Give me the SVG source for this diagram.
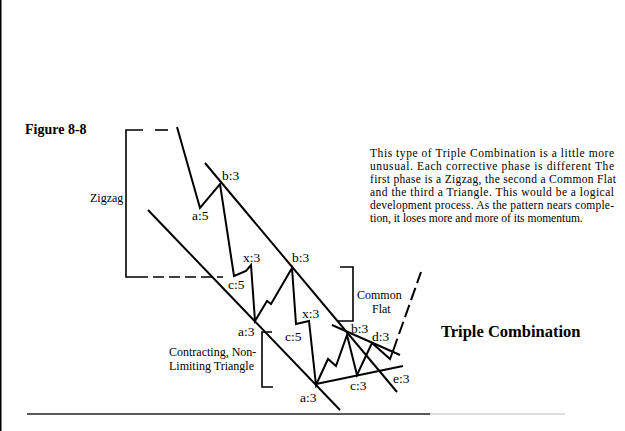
<svg xmlns="http://www.w3.org/2000/svg" width="625" height="431" viewBox="0 0 625 431">
<style>
.ln{fill:none;stroke:#000;stroke-width:2;stroke-linejoin:miter;stroke-linecap:butt}
.br{fill:none;stroke:#000;stroke-width:1.6}
.lb{font-family:"Liberation Serif","Times New Roman",serif;font-size:13.5px;fill:#000}
.sm{font-family:"Liberation Serif","Times New Roman",serif;font-size:12px;fill:#000}
.tx{font-family:"Liberation Serif","Times New Roman",serif;font-size:11.5px;fill:#000}
.bd{font-family:"Liberation Serif","Times New Roman",serif;font-weight:bold;fill:#000}
</style>
<rect x="0" y="0" width="625" height="431" fill="#fff"/>
<rect x="0" y="0" width="1.5" height="431" fill="#000"/>
<line x1="27" y1="414" x2="430" y2="414" stroke="#222" stroke-width="1.6"/>
<line x1="430" y1="414" x2="565" y2="414" stroke="#bbb" stroke-width="1.2"/>

<text class="bd" x="25" y="134" font-size="14">Figure 8-8</text>

<g id="connectors">
  <polyline id="upper-channel" class="ln" points="205,163 397,392"/>
  <polyline id="lower-channel" class="ln" points="148,210 340,410"/>
  <polyline id="triangle-upper" class="ln" points="332,325 400,355"/>
  <polyline id="triangle-lower" class="ln" points="316,384 403,366"/>
  <polyline id="wave" class="ln" points="177,127 200,208 220,184 234,276 246,271 251,265 255,321 267,301 271,304 292,268 296,324 309,321 316,385 328,359 336,366 347,335 357,375 372,343 390,359 393,351"/>
  <line id="thrust" class="ln" x1="393" y1="351" x2="421" y2="272" stroke-dasharray="13 5"/>
</g>

<g id="zigzag-bracket">
  <polyline class="br" points="143,130 126,130 126,277 148,277"/>
  <line class="br" x1="155" y1="130" x2="168" y2="130"/>
  <line class="br" x1="153" y1="277" x2="223" y2="277" stroke-dasharray="11 5"/>
  <text class="sm" x="90" y="202">Zigzag</text>
</g>

<g id="common-flat-bracket">
  <polyline class="br" points="340,267 353,267 353,321 337,321"/>
  <text class="sm" x="357" y="299">Common</text>
  <text class="sm" x="372" y="313">Flat</text>
</g>

<g id="triangle-bracket">
  <polyline class="br" points="272,332 262,332 262,387 273,387"/>
  <text class="sm" x="169" y="356">Contracting, Non-</text>
  <text class="sm" x="169" y="370">Limiting Triangle</text>
</g>

<g id="labels">
  <text class="lb" x="222" y="180">b:3</text>
  <text class="lb" x="192" y="220">a:5</text>
  <text class="lb" x="243" y="262">x:3</text>
  <text class="lb" x="228" y="289">c:5</text>
  <text class="lb" x="292" y="262">b:3</text>
  <text class="lb" x="238" y="336">a:3</text>
  <text class="lb" x="285" y="341">c:5</text>
  <text class="lb" x="302" y="318">x:3</text>
  <text class="lb" x="351" y="333">b:3</text>
  <text class="lb" x="372" y="341">d:3</text>
  <text class="lb" x="350" y="390">c:3</text>
  <text class="lb" x="393" y="383">e:3</text>
  <text class="lb" x="300" y="402">a:3</text>
</g>

<g id="description">
  <text class="tx" x="370" y="157" textLength="244" lengthAdjust="spacing">This type of Triple Combination is a little more</text>
  <text class="tx" x="370" y="170" textLength="244" lengthAdjust="spacing">unusual.  Each corrective phase is different  The</text>
  <text class="tx" x="370" y="183" textLength="246" lengthAdjust="spacing">first phase is a Zigzag, the second a Common Flat</text>
  <text class="tx" x="370" y="196" textLength="244" lengthAdjust="spacing">and the third a Triangle.  This would be a logical</text>
  <text class="tx" x="370" y="209" textLength="244" lengthAdjust="spacing">development process.  As the pattern nears comple-</text>
  <text class="tx" x="370" y="222">tion, it loses more and more of its momentum.</text>
</g>

<text class="bd" x="441" y="337" font-size="16.5">Triple Combination</text>
</svg>
